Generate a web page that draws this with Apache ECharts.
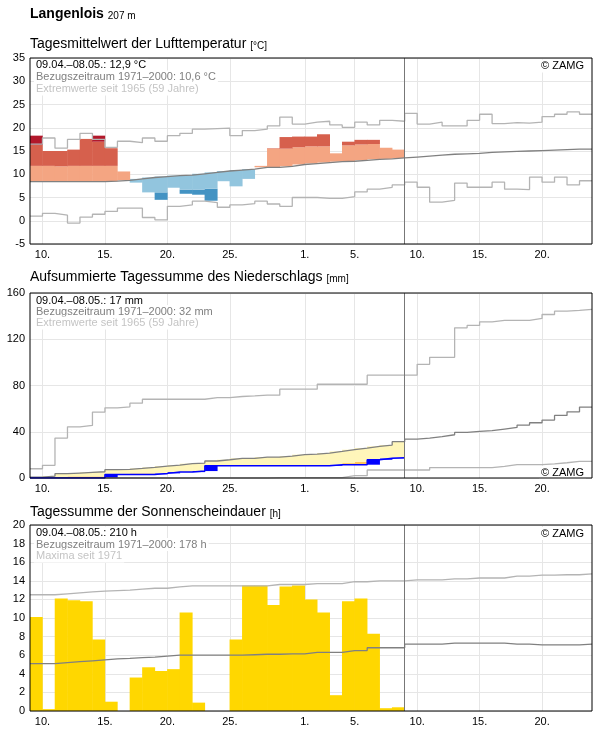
<!DOCTYPE html>
<html>
<head>
<meta charset="utf-8">
<script src="https://cdn.jsdelivr.net/npm/echarts@6/dist/echarts.min.js"></script>
<style>
html, body { margin: 0; padding: 0; background: #fff; }
#chart { width: 596px; height: 729px; }
</style>
</head>
<body>
<div id="chart"></div>
<script>
// x axis: day index, 0 = 09.04., 45 days shown, 30 observed
var dayCount = 45;
var tickDays = [1, 6, 11, 16, 22, 26, 31, 36, 41];
var tickLabels = ['10.', '15.', '20.', '25.', '1.', '5.', '10.', '15.', '20.'];

// Lufttemperatur (°C)
var tempClim = [8.4, 8.4, 8.4, 8.4, 8.4, 8.4, 8.5, 8.7, 9.0, 9.3, 9.5, 9.7, 9.8, 10.1, 10.4, 10.7, 10.9, 11.1, 11.5, 11.5,
  11.7, 12.1, 12.3, 12.5, 12.7, 12.8, 13.0, 13.2, 13.3, 13.5, 13.7, 13.9, 14.1, 14.3, 14.4, 14.5, 14.7, 14.8, 14.9, 15.0,
  15.1, 15.2, 15.3, 15.4, 15.4];
var tempMax = [16.5, 17.8, 15.6, 17.5, 18.8, 17.5, 15.8, 17.1, 16.8, 17.8, 17.1, 18.3, 18.8, 19.7, 19.8, 19.9, 18.3, 19.4, 19.7, 20.4,
  22.3, 20.8, 21.2, 21.4, 20.6, 20.1, 21.2, 20.6, 21.6, 21.4, 23.1, 20.8, 21.2, 20.4, 20.4, 21.6, 22.9, 20.9, 21.1, 21.0,
  21.2, 22.4, 22.9, 23.4, 22.9];
var tempMin = [1.0, 1.6, 1.2, -0.5, 0.8, 1.4, 2.0, 2.7, 2.7, 0.7, 0.2, 3.1, 3.4, 4.2, 3.9, 2.9, 3.4, 3.7, 4.2, 3.6,
  3.1, 5.0, 5.0, 4.8, 4.8, 5.2, 6.2, 6.8, 7.2, 7.7, 8.3, 7.2, 4.0, 4.4, 8.1, 7.2, 7.2, 8.3, 6.8, 6.7,
  9.4, 8.3, 9.4, 7.7, 8.6];
// anomaly bands of the observed days (upper / lower edge of each colour)
var tempSalmonTop = [11.8, 11.8, 11.7, 11.8, 11.8, 11.8, 11.8, 10.6, null, null, null, null, null, null, null, null, null, null,
  11.8, 15.5, 15.5, 15.8, 16.0, 16.0, 14.5, 16.2, 16.4, 16.5, 15.7, 15.3];
var tempRedTop = [16.3, 15.0, 15.0, 15.3, 17.6, 17.0, 15.6, null, null, null, null, null, null, null, null, null, null, null,
  null, 15.6, 18.0, 18.1, 18.1, 18.6, null, 17.0, 17.4, 17.4, null, null];
var tempDarkRedTop = [18.3, null, null, null, null, 18.3, null, null, null, null, null, null, null, null, null, null, null, null,
  null, null, null, null, null, null, null, null, null, null, null, null];
var tempLightBlueBottom = [null, null, null, null, null, null, null, null, 8.2, 6.1, 6.1, 7.1, 6.7, 6.7, 6.9, 8.5, 7.4, 9.0,
  null, null, null, null, null, null, null, null, null, null, null, null];
var tempBlueBottom = [null, null, null, null, null, null, null, null, null, null, 4.5, null, 5.8, 5.6, 4.3, null, null, null,
  null, null, null, null, null, null, null, null, null, null, null, null];

// Niederschlag, aufsummiert (mm)
var precipCum = [0, 0, 0, 0, 0, 0, 3.1, 3.1, 3.1, 3.1, 4.0, 5.1, 5.1, 6.0, 10.6, 10.6, 10.6, 10.6, 10.6, 10.6,
  10.6, 10.6, 10.6, 10.6, 11.5, 11.5, 11.5, 15.8, 17.0, 17.6];
var precipOrangeTop = [null, null, 0.6, 1.4, 1.4, 1.4, null, null, 4.0, 4.0, null, null, null, null, null, null, null, null, null, null,
  null, null, null, null, null, 12.9, 14.1, null, null, null];
var precipClim = [0.8, 1.7, 3.7, 4.3, 4.9, 5.4, 7.2, 7.5, 8.3, 9.2, 10.3, 11.2, 12.4, 12.9, 14.7, 15.8, 17.0, 17.0, 18.1, 18.1,
  19.0, 20.2, 20.7, 21.6, 23.0, 24.5, 25.9, 27.4, 28.5, 31.4, 33.7, 34.5, 35.7, 37.4, 39.4, 40.3, 40.9, 42.3, 43.7, 45.8,
  47.8, 50.1, 54.1, 57.2, 61.3];
var precipMax = [8.0, 11.0, 34.5, 44.3, 45.5, 57.0, 60.7, 61.6, 64.7, 68.1, 68.1, 68.1, 68.1, 68.1, 69.6, 69.6, 70.5, 71.0, 71.6, 71.6,
  76.8, 76.8, 76.8, 81.1, 81.1, 81.1, 81.1, 88.9, 88.9, 88.9, 88.9, 98.3, 104.4, 104.4, 129.9, 132.0, 135.1, 136.3, 136.3, 136.3,
  138.0, 141.4, 144.3, 144.9, 145.8];
var precipMin = [0, 0, 0, 0, 0, 0, 0, 0, 0, 0, 0, 0, 0, 0, 0, 0, 0, 0, 0, 0.4,
  0.4, 0.4, 0.4, 0.4, 0.4, 2.0, 2.0, 6.9, 6.9, 6.9, 6.9, 6.9, 9.0, 9.0, 9.0, 9.0, 9.0, 10.0, 11.5, 11.5,
  11.5, 12.3, 13.2, 14.3, 14.3];

// Sonnenscheindauer (h)
var sun = [10.1, 0.2, 12.1, 11.9, 11.8, 7.7, 1.0, 0, 3.6, 4.7, 4.3, 4.5, 10.6, 0.9, 0, 0, 7.7, 13.5, 13.5, 11.4,
  13.4, 13.5, 12.0, 10.6, 1.7, 11.8, 12.1, 8.3, 0.3, 0.4];
var sunClim = [5.1, 5.1, 5.2, 5.3, 5.4, 5.5, 5.6, 5.65, 5.75, 5.8, 5.9, 6.0, 6.0, 6.0, 6.0, 6.0, 6.0, 6.05, 6.1, 6.1,
  6.15, 6.15, 6.3, 6.3, 6.3, 6.5, 6.5, 6.8, 6.8, 6.8, 7.2, 7.2, 7.2, 7.3, 7.3, 7.3, 7.3, 7.3, 7.2, 7.2,
  7.1, 7.1, 7.1, 7.1, 7.2];
var sunMax = [12.5, 12.5, 12.6, 12.7, 12.8, 12.9, 12.95, 13.0, 13.1, 13.2, 13.2, 13.35, 13.45, 13.45, 13.45, 13.45, 13.45, 13.45, 13.45, 13.6,
  13.6, 13.6, 13.7, 13.7, 13.7, 13.9, 13.9, 14.0, 14.0, 14.0, 14.1, 14.1, 14.1, 14.2, 14.2, 14.3, 14.3, 14.3, 14.5, 14.5,
  14.6, 14.6, 14.65, 14.65, 14.75];

var obsDays = sun.length;

var FONT = '"Liberation Sans", Arial, sans-serif';
var PLOT_W = 562;
var BAR_W = PLOT_W / dayCount + 0.5;
var GRIDS = [
  { top: 58, height: 186 },
  { top: 293, height: 185 },
  { top: 525, height: 186 }
];
var dayCats = [];
for (var k = 0; k < dayCount; k++) dayCats.push(String(k));

var chart = echarts.init(document.getElementById('chart'));

// step line on the value x axis: value of day i drawn from i to i+1
function stepLine(g, arr, color, width, extra) {
  var d = arr.map(function (v, i) { return [i, v]; });
  d.push([arr.length, arr[arr.length - 1]]);
  var s = {
    type: 'line', xAxisIndex: g, yAxisIndex: g, step: 'end', symbol: 'none',
    data: d, lineStyle: { color: color, width: width }, z: 4, silent: true, animation: false
  };
  return Object.assign(s, extra || {});
}

// stacked bar segment on the hidden day category axis of grid g
function barSeg(g, stack, vals, color) {
  return {
    type: 'bar', xAxisIndex: 3 + g, yAxisIndex: g, stack: stack, barWidth: BAR_W,
    data: vals, itemStyle: { color: color }, silent: true, animation: false, z: 2
  };
}

var periodLine = {
  symbol: 'none', silent: true, animation: false, label: { show: false },
  lineStyle: { color: '#777', width: 1, type: 'solid' },
  data: [{ xAxis: obsDays }]
};

// temperature stack: base / blue / light blue / salmon / red / dark red
var tBase = [], tBlue = [], tLBlue = [], tSalmon = [], tRed = [], tDark = [];
for (var i = 0; i < obsDays; i++) {
  var c = tempClim[i];
  if (tempLightBlueBottom[i] != null) {
    var bottom = tempBlueBottom[i] != null ? tempBlueBottom[i] : tempLightBlueBottom[i];
    tBase.push(bottom);
    tBlue.push(tempLightBlueBottom[i] - bottom);
    tLBlue.push(c - tempLightBlueBottom[i]);
    tSalmon.push(0); tRed.push(0); tDark.push(0);
  } else {
    tBase.push(c); tBlue.push(0); tLBlue.push(0);
    tSalmon.push(tempSalmonTop[i] - c);
    tRed.push(tempRedTop[i] != null ? tempRedTop[i] - tempSalmonTop[i] : 0);
    tDark.push(tempDarkRedTop[i] != null ? tempDarkRedTop[i] - tempRedTop[i] : 0);
  }
}

// precipitation stack: previous sum / daily amount / orange / yellow up to climate
var pBase = [], pBlue = [], pOrange = [], pYellow = [];
for (var j = 0; j < obsDays; j++) {
  var prevSum = j > 0 ? precipCum[j - 1] : 0;
  pBase.push(prevSum);
  pBlue.push(precipCum[j] - prevSum);
  var level = precipCum[j];
  if (precipOrangeTop[j] != null) { pOrange.push(precipOrangeTop[j] - level); level = precipOrangeTop[j]; }
  else pOrange.push(0);
  pYellow.push(Math.max(0, precipClim[j] - level));
}

function xAxisFor(g) {
  return {
    type: 'value', gridIndex: g, min: 0, max: dayCount,
    axisLine: { show: false },
    axisTick: { show: false, customValues: tickDays },
    axisLabel: {
      customValues: tickDays, margin: 5, color: '#000', fontSize: 11, fontFamily: FONT,
      formatter: function (v) { var k = tickDays.indexOf(Math.round(v)); return k >= 0 ? tickLabels[k] : ''; }
    },
    splitLine: { show: true, lineStyle: { color: '#e6e6e6', width: 1 } }
  };
}
function catAxisFor(g) {
  return { type: 'category', gridIndex: g, data: dayCats, boundaryGap: true, show: false };
}
function yAxisFor(g, min, max, step) {
  return {
    type: 'value', gridIndex: g, min: min, max: max, interval: step,
    axisLine: { show: false }, axisTick: { show: false },
    axisLabel: { margin: 5, color: '#000', fontSize: 11, fontFamily: FONT },
    splitLine: { show: true, lineStyle: { color: '#e6e6e6', width: 1 } }
  };
}

function boxTxt(x, y, text, color, align) {
  return {
    type: 'text', x: x, y: y, z: 1, silent: true,
    style: {
      text: text, font: '11px ' + FONT, fill: color, verticalAlign: 'middle', align: align || 'left',
      backgroundColor: '#fff', padding: [1, 2]
    }
  };
}
function titleTxt(y, main, unit) {
  return {
    type: 'text', x: 30, y: y, z: 1, silent: true,
    style: {
      text: main + ' {u|' + unit + '}', font: '14px ' + FONT, fill: '#000', verticalAlign: 'middle',
      rich: { u: { fontSize: 10, fontFamily: FONT, fill: '#000', verticalAlign: 'bottom' } }
    }
  };
}

var graphics = [
  {
    type: 'text', x: 30, y: 14, z: 1, silent: true,
    style: {
      text: 'Langenlois {s|207 m}', font: 'bold 14px ' + FONT, fill: '#000', verticalAlign: 'middle',
      rich: { s: { fontSize: 10, fontWeight: 'normal', fontFamily: FONT, verticalAlign: 'bottom' } }
    }
  },
  titleTxt(44, 'Tagesmittelwert der Lufttemperatur', '[°C]'),
  titleTxt(277, 'Aufsummierte Tagessumme des Niederschlags', '[mm]'),
  titleTxt(512, 'Tagessumme der Sonnenscheindauer', '[h]'),

  boxTxt(34, 65, '09.04.–08.05.: 12,9 °C', '#000'),
  boxTxt(34, 77, 'Bezugszeitraum 1971–2000: 10,6 °C', '#7f7f7f'),
  boxTxt(34, 89, 'Extremwerte seit 1965 (59 Jahre)', '#c4c4c4'),
  boxTxt(586, 66, '© ZAMG', '#000', 'right'),

  boxTxt(34, 300.5, '09.04.–08.05.: 17 mm', '#000'),
  boxTxt(34, 311.5, 'Bezugszeitraum 1971–2000: 32 mm', '#7f7f7f'),
  boxTxt(34, 323, 'Extremwerte seit 1965 (59 Jahre)', '#c4c4c4'),
  boxTxt(586, 472.5, '© ZAMG', '#000', 'right'),

  boxTxt(34, 533, '09.04.–08.05.: 210 h', '#000'),
  boxTxt(34, 544.5, 'Bezugszeitraum 1971–2000: 178 h', '#7f7f7f'),
  boxTxt(34, 556, 'Maxima seit 1971', '#c4c4c4'),
  boxTxt(586, 533.5, '© ZAMG', '#000', 'right')
];

var option = {
  animation: false,
  backgroundColor: '#fff',
  textStyle: { fontFamily: FONT },
  grid: GRIDS.map(function (g) {
    return {
      left: 30, width: PLOT_W, top: g.top, height: g.height, show: true,
      borderColor: '#000', borderWidth: 1, backgroundColor: 'transparent', z: 6,
      outerBoundsMode: 'none'
    };
  }),
  xAxis: [xAxisFor(0), xAxisFor(1), xAxisFor(2), catAxisFor(0), catAxisFor(1), catAxisFor(2)],
  yAxis: [yAxisFor(0, -5, 35, 5), yAxisFor(1, 0, 160, 40), yAxisFor(2, 0, 20, 2)],
  graphic: graphics,
  series: [
    // temperature
    barSeg(0, 't', tBase, 'rgba(0,0,0,0)'),
    barSeg(0, 't', tBlue, '#4393c3'),
    barSeg(0, 't', tLBlue, '#92c5de'),
    barSeg(0, 't', tSalmon, '#f4a582'),
    barSeg(0, 't', tRed, '#d6604d'),
    barSeg(0, 't', tDark, '#b2182b'),
    stepLine(0, tempMax, '#b4b4b4', 1.3),
    stepLine(0, tempMin, '#b4b4b4', 1.3),
    stepLine(0, tempClim, '#808080', 1.3, { markLine: periodLine }),

    // precipitation
    barSeg(1, 'p', pBase, 'rgba(0,0,0,0)'),
    barSeg(1, 'p', pBlue, '#0000ff'),
    barSeg(1, 'p', pOrange, '#fdc35a'),
    barSeg(1, 'p', pYellow, '#fff6ba'),
    stepLine(1, precipMax, '#b4b4b4', 1.3),
    stepLine(1, precipMin, '#b4b4b4', 1.3),
    stepLine(1, precipClim, '#808080', 1.3, { markLine: periodLine }),
    stepLine(1, precipCum, '#0000ff', 1.5),

    // sunshine
    barSeg(2, 's', sun, '#ffd700'),
    stepLine(2, sunMax, '#b4b4b4', 1.3),
    stepLine(2, sunClim, '#808080', 1.3, { markLine: periodLine })
  ]
};

chart.setOption(option);
</script>
</body>
</html>
